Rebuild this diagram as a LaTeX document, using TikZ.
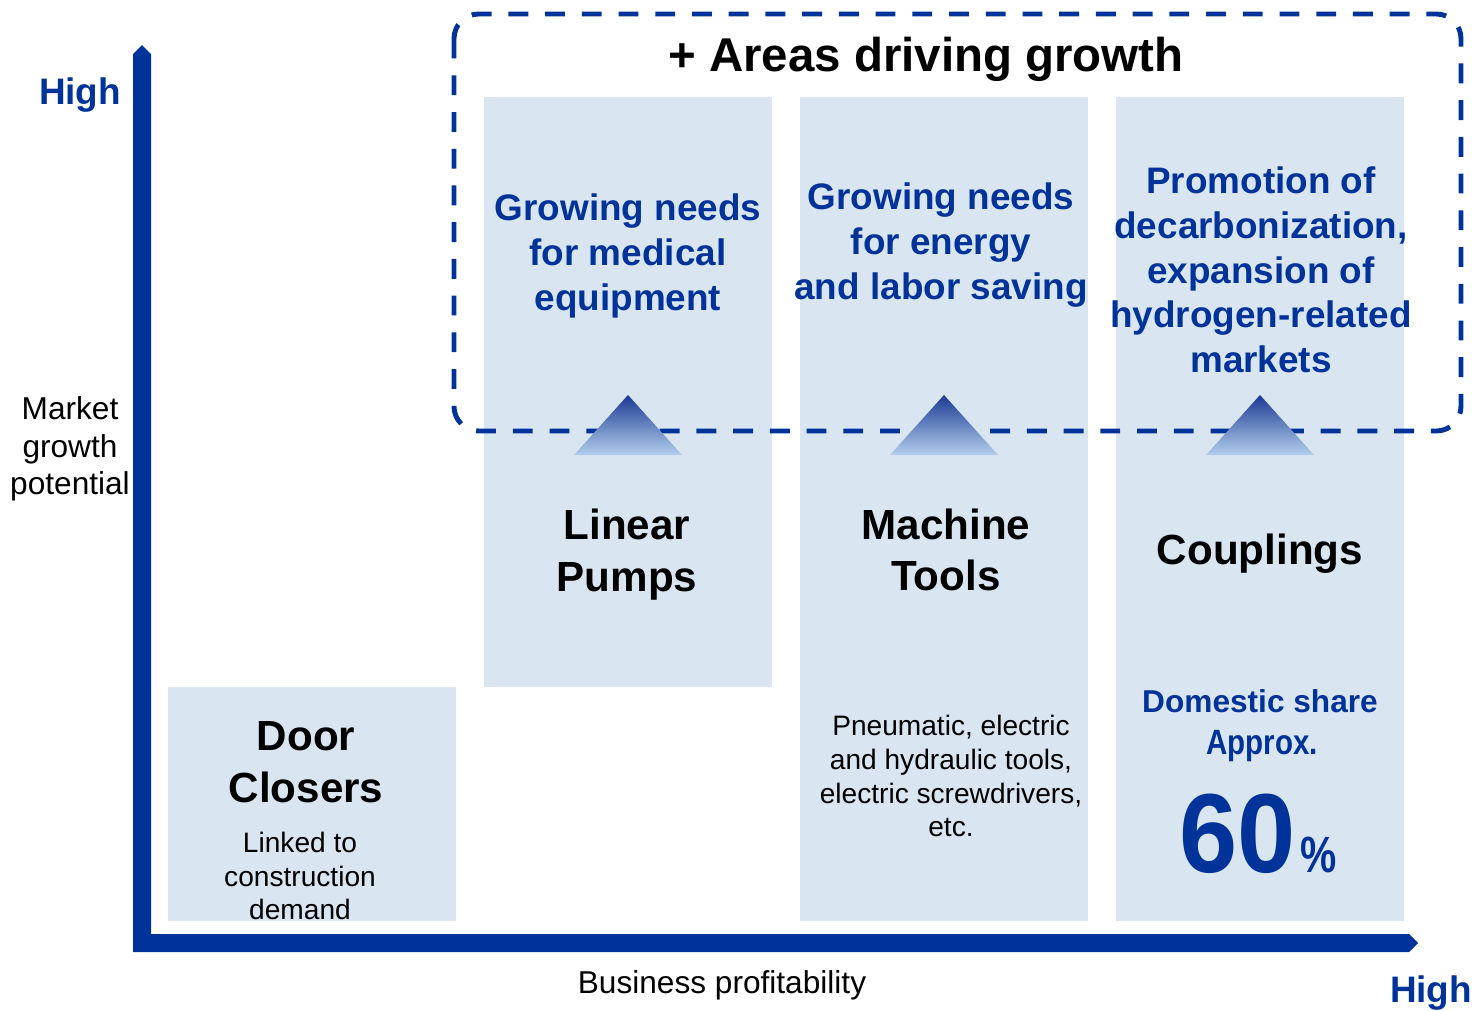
\documentclass[tikz,border=0pt]{standalone}
\usepackage{fontspec}
\setmainfont{Liberation Sans}
\usepackage{graphicx}
\usetikzlibrary{positioning}
\definecolor{brand}{HTML}{003399}
\definecolor{panel}{HTML}{DAE5F2}
\definecolor{tritop}{HTML}{1C3A95}
\definecolor{tribase}{HTML}{B2CEEB}

\newcommand{\fsz}[2]{\fontsize{#1}{#2}\selectfont}

\begin{document}
\begin{tikzpicture}[x=0.02cm,y=-0.02cm,
  panelbox/.style={fill=panel,draw=none},
  zone/.style={draw=brand,line width=2.8pt,dash pattern=on 11.3pt off 9.6pt,rounded corners=14pt},
  rise/.style={top color=tritop,bottom color=tribase,draw=none},
  need/.style={text=brand,font=\fsz{21pt}{25.5pt}\bfseries,align=center,inner sep=0pt},
  product/.style={font=\fsz{24pt}{29.5pt}\bfseries,align=center,inner sep=0pt},
  note/.style={font=\fsz{16pt}{19.3pt},align=center,inner sep=0pt},
  axlabel/.style={font=\fsz{18pt}{21.5pt},align=center,inner sep=0pt},
  high/.style={text=brand,font=\fsz{21pt}{25pt}\bfseries,inner sep=0pt}]
\useasboundingbox (0,0) rectangle (1472,1011);

% product columns
\path[panelbox] (168,687) rectangle (456,921);
\path[panelbox] (484,97) rectangle (772,687);
\path[panelbox] (800,97) rectangle (1088,921);
\path[panelbox] (1116,97) rectangle (1404,921);

% growth zone
\draw[zone] (454,14) rectangle (1461,431);

% upward markers
\foreach \cx in {628,944,1260}
  \shade[rise] (\cx-54,455) -- (\cx,395) -- (\cx+54,455) -- cycle;

% axes
\coordinate (origin) at (142,943);
\fill[brand] (133,952) -- (133,54) -- (142,45) -- (151,54) -- (151,934)
  -- (1409,934) -- (1418,943) -- (1409,952) -- cycle;

\node[high] (yhigh) at (80,95) {High};
\node[axlabel] (ytitle) at (70,449) {Market\\growth\\potential};
\node[axlabel] (xtitle) at (722,985) {Business profitability};
\node[high] (xhigh) at (1431,993) {High};

\node[font=\fsz{27pt}{32pt}\bfseries,inner sep=0pt] (zonetitle) at (926,59) {+ Areas driving growth};

% needs inside the zone
\node[need] (medical) at (628,256) {Growing needs\\for medical\\equipment};
\node[need] (energy) at (941,245) {Growing needs\\for energy\\and labor saving};
\node[need] (hydrogen) at (1261,270) {Promotion of\\decarbonization,\\expansion of\\hydrogen-related\\markets};

% products
\node[product] (pumps) at (627,555) {Linear\\Pumps};
\node[product] (tools) at (946,550) {Machine\\Tools};
\node[product] (couplings) at (1260,554) {Couplings};
\node[product] (closers) at (306,762) {Door\\Closers};

\node[note] (closersnote) at (300,876) {Linked to\\construction\\demand};
\node[note] (toolsnote) at (951,776) {Pneumatic, electric\\and hydraulic tools,\\electric screwdrivers,\\etc.};

% market share
\node[text=brand,font=\fsz{18pt}{22pt}\bfseries,inner sep=0pt] (share) at (1260,701) {Domestic share};
\node[text=brand,font=\fsz{20pt}{24pt}\bfseries,inner sep=0pt] (approx) at (1262,746) {\scalebox{0.84}[1]{Approx.}};
\node[text=brand,font=\fsz{64pt}{70pt}\bfseries,inner sep=0pt,anchor=base] (sixty) at (1238,872) {\scalebox{0.93}[1]{60}};
\node[text=brand,font=\fsz{29pt}{32pt}\bfseries,inner sep=0pt,anchor=base west,xshift=2pt] (pct) at (sixty.base east) {\scalebox{0.8}[1]{\%}};
\end{tikzpicture}
\end{document}
